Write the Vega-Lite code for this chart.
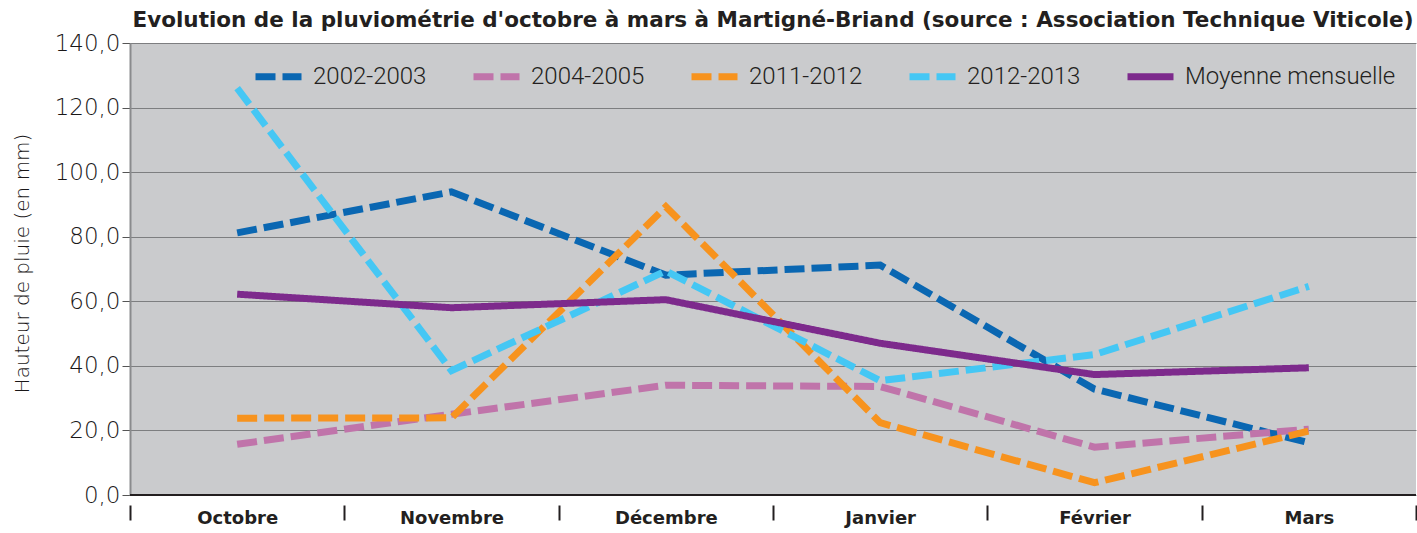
{
  "$schema": "https://vega.github.io/schema/vega-lite/v6.json",
  "width": 1286,
  "height": 452,
  "autosize": {"type": "none"},
  "padding": {"left": 130, "top": 43, "right": 1, "bottom": 38},
  "background": "white",
  "title": {
    "text": "Evolution de la pluviométrie d'octobre à mars à Martigné-Briand (source : Association Technique Viticole)",
    "anchor": "middle",
    "font": "DejaVu Sans",
    "fontSize": 21.5,
    "fontWeight": "bold",
    "color": "#231f20",
    "offset": 1
  },
  "config": {
    "locale": {"number": {"decimal": ",", "thousands": " ", "grouping": [3], "currency": ["", " €"]}},
    "view": {"fill": "#cacbcd", "stroke": null}
  },
  "data": {
    "values": [
      {"mois": "Octobre", "serie": "2002-2003", "pluie": 81.2},
      {"mois": "Novembre", "serie": "2002-2003", "pluie": 93.9},
      {"mois": "Décembre", "serie": "2002-2003", "pluie": 68.1},
      {"mois": "Janvier", "serie": "2002-2003", "pluie": 71.2},
      {"mois": "Février", "serie": "2002-2003", "pluie": 32.8},
      {"mois": "Mars", "serie": "2002-2003", "pluie": 16.2},
      {"mois": "Octobre", "serie": "2004-2005", "pluie": 15.7},
      {"mois": "Novembre", "serie": "2004-2005", "pluie": 25.0},
      {"mois": "Décembre", "serie": "2004-2005", "pluie": 34.0},
      {"mois": "Janvier", "serie": "2004-2005", "pluie": 33.6},
      {"mois": "Février", "serie": "2004-2005", "pluie": 14.8},
      {"mois": "Mars", "serie": "2004-2005", "pluie": 20.4},
      {"mois": "Octobre", "serie": "2011-2012", "pluie": 23.8},
      {"mois": "Novembre", "serie": "2011-2012", "pluie": 23.9},
      {"mois": "Décembre", "serie": "2011-2012", "pluie": 89.3},
      {"mois": "Janvier", "serie": "2011-2012", "pluie": 22.4},
      {"mois": "Février", "serie": "2011-2012", "pluie": 3.8},
      {"mois": "Mars", "serie": "2011-2012", "pluie": 19.8},
      {"mois": "Octobre", "serie": "2012-2013", "pluie": 126.0},
      {"mois": "Novembre", "serie": "2012-2013", "pluie": 38.5},
      {"mois": "Décembre", "serie": "2012-2013", "pluie": 69.4},
      {"mois": "Janvier", "serie": "2012-2013", "pluie": 35.4},
      {"mois": "Février", "serie": "2012-2013", "pluie": 43.5},
      {"mois": "Mars", "serie": "2012-2013", "pluie": 64.6},
      {"mois": "Octobre", "serie": "Moyenne mensuelle", "pluie": 62.2},
      {"mois": "Novembre", "serie": "Moyenne mensuelle", "pluie": 58.0},
      {"mois": "Décembre", "serie": "Moyenne mensuelle", "pluie": 60.5},
      {"mois": "Janvier", "serie": "Moyenne mensuelle", "pluie": 47.0},
      {"mois": "Février", "serie": "Moyenne mensuelle", "pluie": 37.3},
      {"mois": "Mars", "serie": "Moyenne mensuelle", "pluie": 39.4}
    ]
  },
  "layer": [
    {
      "mark": {"type": "line", "strokeWidth": 7, "strokeCap": "butt", "strokeJoin": "miter"},
      "encoding": {
        "x": {
          "field": "mois",
          "type": "nominal",
          "sort": ["Octobre", "Novembre", "Décembre", "Janvier", "Février", "Mars"],
          "bandPosition": 0.5,
          "scale": {"type": "band", "paddingInner": 0, "paddingOuter": 0},
          "axis": {
            "title": null,
            "offset": 10,
            "domain": false,
            "grid": false,
            "tickBand": "extent",
            "tickSize": 15,
            "tickWidth": 2,
            "tickColor": "#231f20",
            "labelFont": "DejaVu Sans",
            "labelFontSize": 18,
            "labelFontWeight": "bold",
            "labelColor": "#231f20",
            "labelPadding": -11,
            "labelAngle": 0
          }
        },
        "y": {
          "field": "pluie",
          "type": "quantitative",
          "scale": {"domain": [0, 140]},
          "axis": {
            "title": "Hauteur de pluie (en mm)",
            "values": [0, 20, 40, 60, 80, 100, 120, 140],
            "format": ".1f",
            "grid": true,
            "gridColor": "#7d7e80",
            "gridWidth": 1,
            "domain": true,
            "domainColor": "#8a8b8d",
            "domainWidth": 2,
            "tickSize": 8,
            "tickColor": "#555555",
            "labelFont": "DejaVu Sans",
            "labelFontSize": 23,
            "labelFontWeight": 300,
            "labelColor": "#1a1718",
            "labelPadding": 2,
            "titleFont": "DejaVu Sans",
            "titleFontSize": 20,
            "titleFontWeight": 300,
            "titleColor": "#1a1718",
            "titleX": -108,
            "titleY": 220,
            "titleAngle": -90,
            "titleBaseline": "middle",
            "titleAlign": "center"
          }
        },
        "color": {
          "field": "serie",
          "type": "nominal",
          "scale": {
            "domain": ["2002-2003", "2004-2005", "2011-2012", "2012-2013", "Moyenne mensuelle"],
            "range": ["#0a67b2", "#c074aa", "#f7931e", "#45c7f4", "#7d2a8c"]
          },
          "legend": {
            "title": null,
            "orient": "none",
            "legendX": 122,
            "legendY": 7,
            "direction": "horizontal",
            "columns": 5,
            "gridAlign": "each",
            "padding": 0,
            "symbolType": "stroke",
            "symbolSize": 2116,
            "symbolStrokeWidth": 7,
            "labelFont": "Roboto",
            "labelFontSize": 24,
            "labelFontWeight": 300,
            "labelColor": "#231f20",
            "labelOffset": 8,
            "columnPadding": 32,
            "labelLimit": 400
          }
        },
        "strokeDash": {
          "field": "serie",
          "type": "nominal",
          "scale": {
            "domain": ["2002-2003", "2004-2005", "2011-2012", "2012-2013", "Moyenne mensuelle"],
            "range": [[20, 7], [20, 7], [20, 7], [20, 7], [1, 0]]
          },
          "legend": {
            "title": null,
            "orient": "none",
            "legendX": 122,
            "legendY": 7,
            "direction": "horizontal",
            "columns": 5,
            "gridAlign": "each",
            "padding": 0,
            "symbolType": "stroke",
            "symbolSize": 2116,
            "symbolStrokeWidth": 7,
            "labelFont": "Roboto",
            "labelFontSize": 24,
            "labelFontWeight": 300,
            "labelColor": "#231f20",
            "labelOffset": 8,
            "columnPadding": 32,
            "labelLimit": 400
          }
        }
      }
    },
    {
      "mark": {"type": "rule", "color": "#231f20", "strokeWidth": 2},
      "encoding": {"y": {"datum": 0}}
    }
  ]
}
